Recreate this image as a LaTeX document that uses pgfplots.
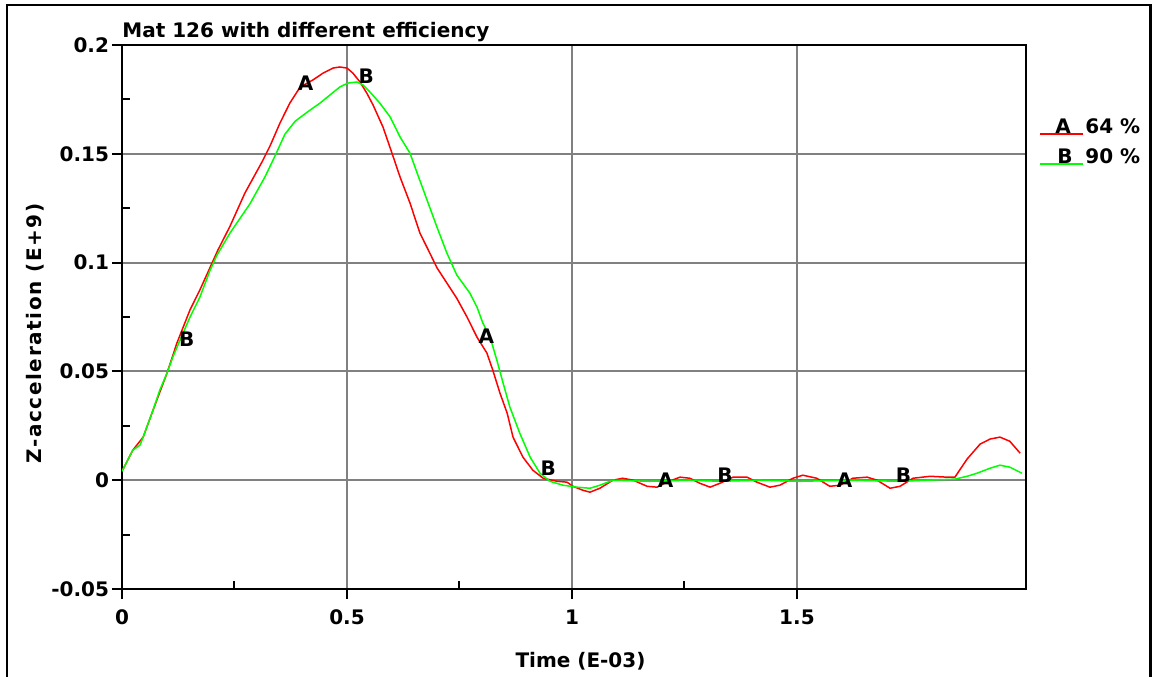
\documentclass[border=0pt]{standalone}
\usepackage{pgfplots}
\pgfplotsset{compat=1.18}
\usepackage{fontspec}
\setmainfont{DejaVu Sans}
\definecolor{gridgray}{RGB}{128,128,128}
\definecolor{cA}{RGB}{255,0,0}
\definecolor{cB}{RGB}{0,255,0}
\begin{document}
\begin{tikzpicture}
\begin{axis}[
  scale only axis, width=452pt, height=272pt,
  xmin=0, xmax=2.009, ymin=-0.05, ymax=0.2,
  xtick={0,0.5,1,1.5}, xticklabels={0,0.5,1,1.5},
  ytick={-0.05,0,0.05,0.1,0.15,0.2}, yticklabels={-0.05,0,0.05,0.1,0.15,0.2},
  minor x tick num=1, minor y tick num=1,
  tick pos=left, tick align=outside,
  major tick length=5pt, minor tick length=-4pt,
  every tick/.style={black, line width=1pt},
  grid=major, major grid style={gridgray, line width=1pt},
  axis line style={black, line width=1pt},
  ticklabel style={font=\fontsize{10pt}{12pt}\selectfont\bfseries},
  yticklabel style={anchor=east, xshift=2pt},
  xticklabel style={anchor=north, yshift=-2pt},
  clip=true,
]
\addplot[cA, line width=0.75pt] coordinates {
(0,0.0041) (0.024,0.0138) (0.047,0.0198) (0.069,0.0322) (0.100,0.0492)
(0.122,0.0630) (0.151,0.0782) (0.173,0.0874) (0.196,0.0979) (0.213,0.1057)
(0.240,0.1167) (0.273,0.1319) (0.311,0.1462) (0.329,0.1536) (0.351,0.1641)
(0.373,0.1733) (0.396,0.1807) (0.424,0.1839) (0.447,0.1871) (0.469,0.1894)
(0.484,0.1899) (0.500,0.1894) (0.513,0.1871) (0.529,0.1830) (0.544,0.1779)
(0.558,0.1724) (0.580,0.1623) (0.600,0.1503) (0.618,0.1393) (0.640,0.1274)
(0.662,0.1136) (0.684,0.1044) (0.700,0.0976) (0.722,0.0906) (0.744,0.0836)
(0.767,0.0749) (0.789,0.0657) (0.811,0.0584) (0.824,0.0506) (0.840,0.0400)
(0.856,0.0308) (0.869,0.0198) (0.891,0.0106) (0.913,0.0046) (0.936,0.0009)
(0.967,-0.0005) (0.989,-0.0009) (1.002,-0.0028) (1.024,-0.0046) (1.040,-0.0055)
(1.062,-0.0037) (1.091,0) (1.113,0.0009) (1.136,0) (1.167,-0.0028)
(1.189,-0.0032) (1.211,-0.0009) (1.240,0.0014) (1.262,0.0009) (1.284,-0.0014)
(1.307,-0.0032) (1.329,-0.0014) (1.358,0.0014) (1.389,0.0014) (1.411,-0.0009)
(1.440,-0.0032) (1.462,-0.0023) (1.491,0.0009) (1.513,0.0023) (1.544,0.0009)
(1.573,-0.0028) (1.596,-0.0023) (1.624,0.0009) (1.656,0.0014) (1.678,0)
(1.707,-0.0037) (1.729,-0.0028) (1.758,0.0009) (1.796,0.0018) (1.833,0.0014)
(1.851,0.0014) (1.878,0.0097) (1.907,0.0166) (1.929,0.0189) (1.951,0.0198)
(1.973,0.0179) (1.996,0.0124)
};
\addplot[cB, line width=0.75pt] coordinates {
(0,0.0041) (0.024,0.0138) (0.040,0.0161) (0.047,0.0198) (0.069,0.0322)
(0.084,0.0414) (0.100,0.0492) (0.113,0.0566) (0.129,0.0644) (0.151,0.0749)
(0.173,0.0841) (0.196,0.0966) (0.211,0.1034) (0.240,0.1136) (0.284,0.1269)
(0.318,0.1395) (0.340,0.1490) (0.362,0.1590) (0.385,0.1650) (0.418,0.1701)
(0.440,0.1733) (0.462,0.1770) (0.484,0.1807) (0.502,0.1825) (0.522,0.1830)
(0.536,0.1816) (0.551,0.1784) (0.573,0.1733) (0.596,0.1669) (0.618,0.1577)
(0.640,0.1503) (0.656,0.1411) (0.678,0.1287) (0.700,0.1163) (0.722,0.1044)
(0.744,0.0943) (0.773,0.0860) (0.789,0.0795) (0.802,0.0722) (0.818,0.0657)
(0.833,0.0552) (0.847,0.0446) (0.862,0.0336) (0.884,0.0216) (0.907,0.0106)
(0.929,0.0032) (0.951,-0.0005) (0.980,-0.0023) (1.011,-0.0032) (1.040,-0.0037)
(1.062,-0.0023) (1.091,0) (1.173,-0.0005) (1.262,0) (1.329,-0.0005)
(1.418,0) (1.507,-0.0005) (1.618,0) (1.729,-0.0005) (1.851,0.0005)
(1.878,0.0018) (1.900,0.0032) (1.929,0.0055) (1.951,0.0069) (1.973,0.0060)
(2.000,0.0032)
};
\addplot[only marks, mark=*, mark size=0pt, mark options={draw=none, fill=none},
  point meta=explicit symbolic, nodes near coords,
  every node near coord/.append style={anchor=center, inner sep=0pt,
    font=\fontsize{10pt}{12pt}\selectfont\bfseries, text=black}]
  table[meta=lab] {
x y lab
0.408 0.1825 A
0.543 0.1857 B
0.144 0.0648 B
0.810 0.0662 A
0.947 0.0057 B
1.208 0.0002 A
1.340 0.0025 B
1.606 0.0002 A
1.737 0.0021 B
};
\end{axis}
% title, axis labels, legend and outer frame (positions in pt, plot origin at 0,0)
\node[anchor=base west, inner sep=0pt, font=\fontsize{10pt}{12pt}\selectfont\bfseries] at (0pt,276pt) {Mat 126 with different efficiency};
\node[anchor=base, inner sep=0pt, font=\fontsize{10pt}{12pt}\selectfont\bfseries] at (229.25pt,-39pt) {Time (E-03)};
\node[rotate=90, anchor=center, inner sep=0pt, font=\fontsize{10pt}{12pt}\selectfont\bfseries\addfontfeature{LetterSpace=8}] at (-43.5pt,127.75pt) {Z-acceleration (E+9)};
\draw[cA, line width=0.75pt] (459pt,227.5pt) -- (480.5pt,227.5pt);
\draw[cB, line width=0.75pt] (459pt,212.5pt) -- (480.5pt,212.5pt);
\node[anchor=base west, inner sep=0pt, font=\fontsize{10pt}{12pt}\selectfont\bfseries] at (466.5pt,228pt) {A};
\node[anchor=base west, inner sep=0pt, font=\fontsize{10pt}{12pt}\selectfont\bfseries] at (481.5pt,228pt) {64 \%};
\node[anchor=base west, inner sep=0pt, font=\fontsize{10pt}{12pt}\selectfont\bfseries] at (467.5pt,213pt) {B};
\node[anchor=base west, inner sep=0pt, font=\fontsize{10pt}{12pt}\selectfont\bfseries] at (481.5pt,213pt) {90 \%};
\draw[black, line width=1.25pt] (-57.5pt,-60pt) -- (-57.5pt,292pt) -- (514.25pt,292pt) -- (514.25pt,-60pt);
\pgfresetboundingbox
\path[use as bounding box] (-61pt,-43.5pt) rectangle (515pt,294.5pt);
\end{tikzpicture}
\end{document}
